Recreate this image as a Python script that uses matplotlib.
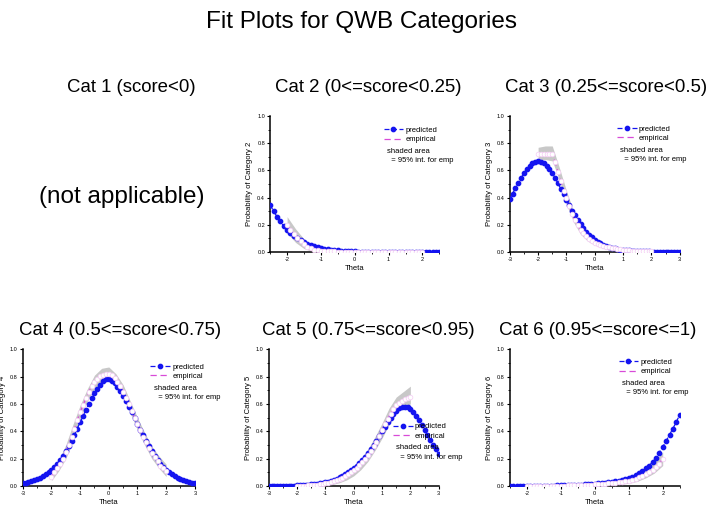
import numpy as np
import matplotlib
matplotlib.use("Agg")
import matplotlib.pyplot as plt
from matplotlib.ticker import MultipleLocator

plt.rcParams['font.family'] = ['Liberation Sans', 'DejaVu Sans']

# theta grids
theta_61 = [-3.0, -2.9, -2.8, -2.7, -2.6, -2.5, -2.4, -2.3, -2.2, -2.1, -2.0, -1.9, -1.8, -1.7, -1.6,
            -1.5, -1.4, -1.3, -1.2, -1.1, -1.0, -0.9, -0.8, -0.7, -0.6, -0.5, -0.4, -0.3, -0.2, -0.1,
            0.0, 0.1, 0.2, 0.3, 0.4, 0.5, 0.6, 0.7, 0.8, 0.9, 1.0, 1.1, 1.2, 1.3, 1.4, 1.5, 1.6, 1.7,
            1.8, 1.9, 2.0, 2.1, 2.2, 2.3, 2.4, 2.5, 2.6, 2.7, 2.8, 2.9, 3.0]
theta_51 = theta_61[5:56]
theta_emp = theta_61[10:51]
theta_band = [-2.0, -1.75, -1.5, -1.25, -1.0, -0.75, -0.5, -0.25, 0.0, 0.25, 0.5, 0.75, 1.0, 1.25, 1.5, 1.75, 2.0]

# Cat 2
pred2 = [0.345, 0.30, 0.26, 0.225, 0.19, 0.16, 0.14, 0.12, 0.10, 0.085, 0.072, 0.06, 0.05, 0.042, 0.035,
         0.029, 0.024, 0.02, 0.016, 0.013, 0.011, 0.009, 0.007, 0.006, 0.005, 0.004, 0.003, 0.003, 0.003,
         0.002, 0.002, 0.002, 0.002, 0.002, 0.001, 0.001, 0.001, 0.001, 0.001, 0.001, 0.001, 0.001, 0.001,
         0.001, 0.001, 0.001, 0.001, 0.001, 0.001, 0.001, 0.001]
emp2 = [0.20, 0.165, 0.135, 0.105, 0.08, 0.06, 0.04, 0.028, 0.018, 0.012, 0.008, 0.006, 0.005, 0.004,
        0.004, 0.003, 0.003, 0.003, 0.003, 0.003, 0.003, 0.003, 0.003, 0.003, 0.003, 0.003, 0.003, 0.003,
        0.003, 0.003, 0.003, 0.003, 0.003, 0.003, 0.003, 0.003, 0.003, 0.003, 0.003, 0.003, 0.003]
lo2 = [0.14, 0.07, 0.025, 0.003, 0.0, 0.0, 0.0, 0.0, 0.0, 0.0, 0.0, 0.0, 0.0, 0.0, 0.0, 0.0, 0.0]
hi2 = [0.26, 0.17, 0.095, 0.045, 0.02, 0.012, 0.01, 0.008, 0.007, 0.006, 0.006, 0.005, 0.005, 0.005,
       0.005, 0.005, 0.005]

# Cat 3
pred3 = [0.39, 0.43, 0.47, 0.51, 0.545, 0.58, 0.61, 0.635, 0.655, 0.665, 0.67, 0.665, 0.655, 0.635,
         0.61, 0.58, 0.545, 0.505, 0.465, 0.425, 0.385, 0.345, 0.305, 0.27, 0.235, 0.205, 0.175, 0.15,
         0.128, 0.108, 0.09, 0.076, 0.064, 0.054, 0.045, 0.038, 0.032, 0.027, 0.022, 0.018, 0.015, 0.013,
         0.011, 0.009, 0.008, 0.007, 0.006, 0.005, 0.004, 0.004, 0.003, 0.003, 0.002, 0.002, 0.002,
         0.002, 0.001, 0.001, 0.001, 0.001, 0.001]
emp3 = [0.72, 0.72, 0.72, 0.72, 0.72, 0.72, 0.66, 0.59, 0.52, 0.45, 0.40, 0.34, 0.28, 0.235, 0.195,
        0.165, 0.14, 0.115, 0.095, 0.08, 0.068, 0.06, 0.052, 0.045, 0.04, 0.035, 0.03, 0.026, 0.022,
        0.019, 0.016, 0.014, 0.012, 0.01, 0.009, 0.008, 0.007, 0.006, 0.005, 0.005, 0.004]
lo3 = [0.68, 0.68, 0.67, 0.53, 0.35, 0.22, 0.13, 0.08, 0.05, 0.035, 0.022, 0.014, 0.009, 0.005, 0.003,
       0.002, 0.001]
hi3 = [0.77, 0.78, 0.78, 0.62, 0.45, 0.30, 0.20, 0.13, 0.09, 0.065, 0.05, 0.04, 0.03, 0.02, 0.015,
       0.012, 0.01]

# Cat 4
pred4 = [0.02, 0.025, 0.03, 0.035, 0.042, 0.05, 0.06, 0.072, 0.086, 0.10, 0.12, 0.14, 0.165, 0.19,
         0.22, 0.255, 0.29, 0.33, 0.375, 0.42, 0.465, 0.51, 0.555, 0.60, 0.64, 0.68, 0.71, 0.74, 0.765,
         0.78, 0.78, 0.77, 0.75, 0.725, 0.695, 0.66, 0.62, 0.58, 0.54, 0.495, 0.45, 0.41, 0.37, 0.33,
         0.29, 0.255, 0.22, 0.19, 0.165, 0.14, 0.12, 0.10, 0.085, 0.072, 0.06, 0.05, 0.042, 0.035,
         0.03, 0.025, 0.02]
emp4 = [0.07, 0.10, 0.13, 0.165, 0.20, 0.25, 0.30, 0.36, 0.42, 0.48, 0.54, 0.59, 0.64, 0.69, 0.73,
        0.76, 0.785, 0.805, 0.815, 0.82, 0.82, 0.81, 0.79, 0.76, 0.73, 0.69, 0.64, 0.60, 0.55, 0.50,
        0.45, 0.41, 0.36, 0.32, 0.28, 0.24, 0.21, 0.18, 0.15, 0.13, 0.11]
lo4 = [0.04, 0.11, 0.20, 0.33, 0.49, 0.62, 0.71, 0.76, 0.77, 0.73, 0.645, 0.53, 0.41, 0.30, 0.20,
       0.13, 0.07]
hi4 = [0.10, 0.19, 0.30, 0.45, 0.59, 0.71, 0.81, 0.86, 0.87, 0.82, 0.74, 0.62, 0.50, 0.39, 0.29,
       0.22, 0.16]

# Cat 5
pred5 = [0.001, 0.001, 0.001, 0.001, 0.002, 0.002, 0.002, 0.003, 0.003, 0.004, 0.005, 0.006, 0.007,
         0.008, 0.01, 0.012, 0.014, 0.017, 0.02, 0.024, 0.028, 0.033, 0.039, 0.046, 0.054, 0.064,
         0.075, 0.088, 0.10, 0.115, 0.13, 0.15, 0.17, 0.19, 0.215, 0.24, 0.27, 0.30, 0.33, 0.365, 0.40,
         0.435, 0.47, 0.50, 0.53, 0.55, 0.57, 0.58, 0.58, 0.575, 0.56, 0.54, 0.51, 0.48, 0.445, 0.41,
         0.37, 0.335, 0.30, 0.27, 0.235]
emp5 = [0.002, 0.002, 0.003, 0.004, 0.005, 0.006, 0.008, 0.01, 0.013, 0.016, 0.02, 0.025, 0.03, 0.036,
        0.043, 0.052, 0.062, 0.074, 0.087, 0.10, 0.115, 0.135, 0.155, 0.175, 0.20, 0.225, 0.255, 0.29,
        0.325, 0.365, 0.41, 0.45, 0.49, 0.53, 0.56, 0.59, 0.61, 0.625, 0.635, 0.645, 0.65]
lo5 = [0.0, 0.0, 0.0, 0.002, 0.005, 0.012, 0.025, 0.045, 0.075, 0.12, 0.18, 0.26, 0.35, 0.45, 0.53,
       0.58, 0.60]
hi5 = [0.008, 0.01, 0.015, 0.02, 0.03, 0.045, 0.07, 0.10, 0.15, 0.20, 0.27, 0.36, 0.46, 0.57, 0.65,
       0.69, 0.73]

# Cat 6
pred6 = [0.001, 0.001, 0.001, 0.001, 0.001, 0.002, 0.002, 0.002, 0.002, 0.003, 0.003, 0.003, 0.004,
         0.004, 0.005, 0.005, 0.006, 0.007, 0.008, 0.009, 0.01, 0.011, 0.012, 0.014, 0.016, 0.018, 0.02,
         0.022, 0.025, 0.028, 0.031, 0.035, 0.039, 0.044, 0.05, 0.056, 0.07, 0.08, 0.095, 0.11, 0.13,
         0.15, 0.175, 0.205, 0.245, 0.285, 0.33, 0.375, 0.42, 0.47, 0.52]
emp6 = [0.001, 0.001, 0.001, 0.002, 0.002, 0.002, 0.002, 0.003, 0.003, 0.003, 0.004, 0.004, 0.005,
        0.005, 0.006, 0.006, 0.007, 0.008, 0.009, 0.01, 0.012, 0.013, 0.015, 0.017, 0.019, 0.022, 0.025,
        0.028, 0.03, 0.035, 0.04, 0.045, 0.055, 0.065, 0.075, 0.09, 0.105, 0.12, 0.14, 0.165, 0.20]
lo6 = [0.0, 0.0, 0.0, 0.0, 0.0, 0.0, 0.001, 0.003, 0.005, 0.007, 0.01, 0.014, 0.02, 0.035, 0.06, 0.095,
       0.15]
hi6 = [0.005, 0.005, 0.006, 0.007, 0.008, 0.01, 0.012, 0.016, 0.02, 0.026, 0.035, 0.045, 0.06, 0.085,
       0.12, 0.175, 0.25]

panels = [
    # title, category, theta, pred, emp, lo, hi, xlim, axes rect, legend anchor, title x/y
    ("Cat 2 (0<=score<0.25)", 2, theta_51, pred2, emp2, lo2, hi2, (-2.5, 2.5),
     [0.380, 0.505, 0.238, 0.267], (0.69, 0.90), (0.518, 0.829)),
    ("Cat 3 (0.25<=score<0.5)", 3, theta_61, pred3, emp3, lo3, hi3, (-3, 3),
     [0.717, 0.505, 0.239, 0.267], (0.65, 0.91), (0.853, 0.829)),
    ("Cat 4 (0.5<=score<0.75)", 4, theta_61, pred4, emp4, lo4, hi4, (-3, 3),
     [0.032, 0.045, 0.242, 0.269], (0.76, 0.875), (0.169, 0.350)),
    ("Cat 5 (0.75<=score<0.95)", 5, theta_61, pred5, emp5, lo5, hi5, (-3, 3),
     [0.378, 0.045, 0.239, 0.269], (0.75, 0.44), (0.518, 0.350)),
    ("Cat 6 (0.95<=score<=1)", 6, theta_51, pred6, emp6, lo6, hi6, (-2.5, 2.5),
     [0.717, 0.045, 0.239, 0.269], (0.66, 0.91), (0.841, 0.350)),
]

BLUE = '#1414f0'
PINK = '#d84ad8'

fig = plt.figure(figsize=(7.11, 5.09), dpi=100)
fig.text(0.509, 0.957, "Fit Plots for QWB Categories", ha='center', va='center', fontsize=17.5)
fig.text(0.184, 0.829, "Cat 1 (score<0)", ha='center', va='center', fontsize=13.4)
fig.text(0.171, 0.613, "(not applicable)", ha='center', va='center', fontsize=17.5)

for title, cat, th, pred, emp, lo, hi, xlim, rect, leg, tpos in panels:
    ax = fig.add_axes(rect)
    fig.text(tpos[0], tpos[1], title, ha='center', va='center', fontsize=13.4)
    ax.fill_between(theta_band, lo, hi, color='#c8c8c8', lw=0, zorder=1)
    emp_line, = ax.plot(theta_emp, emp, ls=(0, (5, 3)), color=PINK, lw=0.9, zorder=2)
    pred_line, = ax.plot(th, pred, ls=(0, (4, 2)), color=BLUE, lw=0.9, marker='o',
                         ms=3.1, mfc=BLUE, mec=BLUE, zorder=3)
    ax.plot(theta_emp, emp, ls='none', marker='o', ms=3.4, mfc='white', mec='#f4caf4',
            mew=0.5, zorder=4)
    ax.set_xlim(*xlim)
    ax.set_ylim(0, 1.0)
    ax.xaxis.set_major_locator(MultipleLocator(1))
    ax.xaxis.set_minor_locator(MultipleLocator(0.5))
    ax.yaxis.set_major_locator(MultipleLocator(0.2))
    ax.yaxis.set_minor_locator(MultipleLocator(0.1))
    ax.yaxis.set_major_formatter(lambda v, p: f"{v:.1f}")
    ax.xaxis.set_major_formatter(lambda v, p: f"{v:.0f}")
    for s in ['top', 'right']:
        ax.spines[s].set_visible(False)
    for s in ['left', 'bottom']:
        ax.spines[s].set_linewidth(1.1)
    ax.tick_params(which='major', length=2.2, width=0.8, labelsize=4, pad=1.5)
    ax.tick_params(which='minor', length=1.3, width=0.6)
    ax.set_xlabel("Theta", fontsize=5.5, labelpad=2)
    ax.set_ylabel(f"Probability of Category {cat}", fontsize=5.5, labelpad=3)

    ax.legend([pred_line, emp_line], ["predicted", "empirical"], loc='center left',
              bbox_to_anchor=(leg[0] - 0.02, leg[1] - 0.04), frameon=False, fontsize=5.5,
              handlelength=2.6, handletextpad=0.3, labelspacing=0.25, borderpad=0,
              borderaxespad=0)
    ax.text(leg[0], leg[1] - 0.16, "shaded area", transform=ax.transAxes, fontsize=5.5,
            va='center', ha='left')
    ax.text(leg[0], leg[1] - 0.23, "  = 95% int. for emp", transform=ax.transAxes, fontsize=5.5,
            va='center', ha='left')

fig.savefig("out.png", dpi=100)
